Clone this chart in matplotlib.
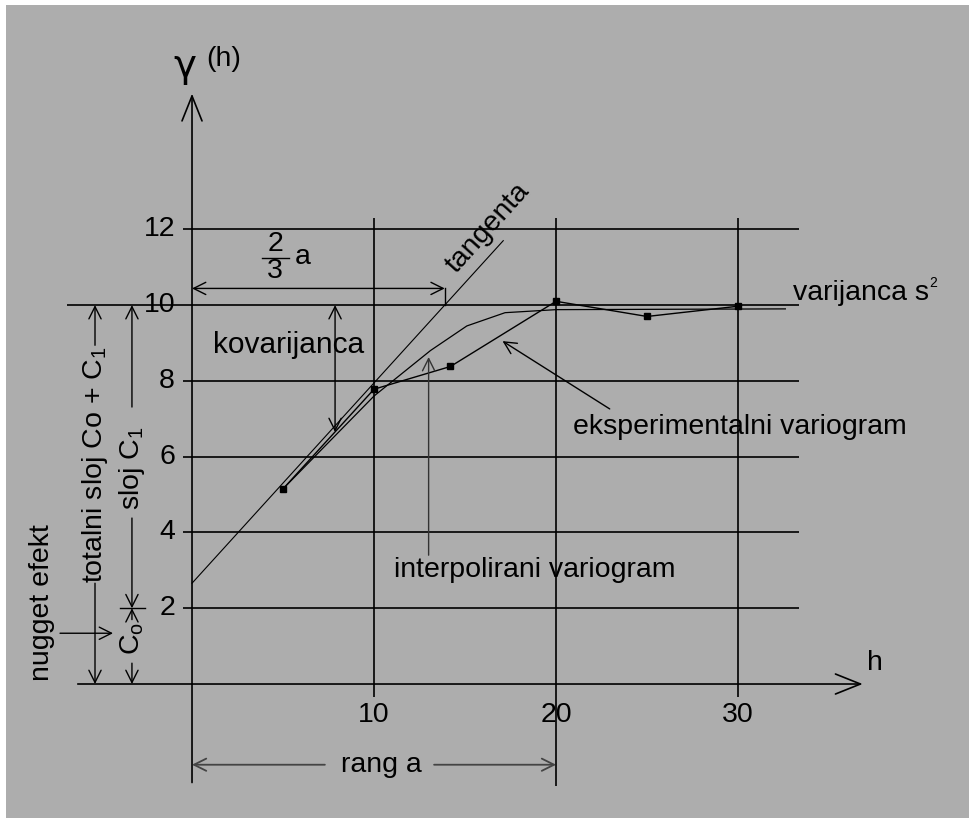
import matplotlib
matplotlib.use('Agg')
import matplotlib.pyplot as plt

plt.rcParams['font.family'] = ['Liberation Sans', 'DejaVu Sans']
plt.rcParams['mathtext.fontset'] = 'custom'
plt.rcParams['mathtext.rm'] = 'Liberation Sans'
plt.rcParams['mathtext.it'] = 'Liberation Sans:italic'

# values
lag_exp = [5, 10, 14.2, 20, 25, 30]
gamma_exp = [5.15, 7.78, 8.38, 10.1, 9.7, 9.97]
lag_model = [5, 10, 13.1, 15.1, 17.2, 20, 32.6]
gamma_model = [5.15, 7.6, 8.8, 9.45, 9.8, 9.88, 9.9]
lag_tangent = [0, 17.1]
gamma_tangent = [2.66, 11.7]
y_ticks = [2, 4, 6, 8, 10, 12]
x_ticks = [10, 20, 30]
sill = 10
nugget = 2
range_a = 20

FS = 20.5
BG = '#adadad'

# where the tangent hits the sill (2/3 a)
t_cross = lag_tangent[0] + (sill - gamma_tangent[0]) * \
    (lag_tangent[1] - lag_tangent[0]) / (gamma_tangent[1] - gamma_tangent[0])

fig = plt.figure(figsize=(9.69, 8.18), dpi=100)
fig.patch.set_facecolor('white')
ax = fig.add_axes([6 / 969, 0, 963 / 969, 813 / 818])
ax.set_facecolor(BG)
ax.set_xlim(-10.22, 42.69)
ax.set_ylim(-3.536, 17.92)
ax.set_xticks([])
ax.set_yticks([])
for s in ax.spines.values():
    s.set_visible(False)


def arrow(x0, y0, x1, y1, style='->', ms=20, lw=1, color='k'):
    ax.annotate('', xy=(x1, y1), xytext=(x0, y0),
                arrowprops=dict(arrowstyle=style, color=color, lw=lw,
                                shrinkA=0, shrinkB=0, mutation_scale=ms))


# grid
grid_y = [v for v in y_ticks if v != sill]
ax.hlines(grid_y, -0.5, 33.35, color='k', lw=1.2)
ax.hlines(sill, -6.87, 33.35, color='k', lw=1.2)
ax.vlines([x_ticks[0], x_ticks[2]], -0.34, 12.3, color='k', lw=1.2)
ax.vlines(range_a, -2.7, 12.3, color='k', lw=1.2)
ax.plot([-6.26, 0], [0, 0], color='k', lw=1.2)

# axes with arrows
arrow(0, -2.6, 0, 15.58, style='->,head_length=0.4,head_width=0.16', ms=45, lw=1.2)
arrow(0, 0, 36.85, 0, style='->,head_length=0.4,head_width=0.16', ms=45, lw=1.2)

for v in y_ticks:
    ax.text(-0.93, v, str(v), ha='right', va='center', fontsize=FS)
for v in x_ticks:
    ax.text(v, -0.82, str(v), ha='center', va='center', fontsize=FS)
ax.text(37.5, 0.55, 'h', ha='center', va='center', fontsize=FS)
ax.text(-0.38, 16.3, 'γ', ha='center', va='center', fontsize=28,
        family=['DejaVu Sans'])
ax.text(1.72, 16.5, '(h)', ha='center', va='center', fontsize=FS)

# curves
ax.plot(lag_tangent, gamma_tangent, color='k', lw=0.8)
ax.plot(lag_model, gamma_model, color='k', lw=0.9)
ax.plot(lag_exp, gamma_exp, color='k', lw=1, marker='s', ms=4.5)

# 2/3 a
arrow(0, 10.44, t_cross, 10.44, style='<->', ms=22)
ax.plot([t_cross, t_cross], [sill, 10.44], color='k', lw=1)
ax.text(4.56, 11.62, '2', ha='center', va='center', fontsize=FS)
ax.text(4.56, 10.9, '3', ha='center', va='center', fontsize=FS)
ax.plot([3.83, 5.35], [11.25, 11.25], color='k', lw=1)
ax.text(6.08, 11.27, 'a', ha='center', va='center', fontsize=FS)

# kovarijanca
arrow(7.86, sill, 7.86, 6.65, style='<->', ms=22)
ax.text(5.33, 8.94, 'kovarijanca', ha='center', va='center', fontsize=21.5)

ax.text(16.26, 12.03, 'tangenta', ha='center', va='center', fontsize=FS,
        rotation=48, rotation_mode='anchor')
ax.text(33.0, 10.13, 'varijanca s', ha='left', va='baseline', fontsize=FS)
ax.text(40.7, 10.58, '2', ha='center', va='center', fontsize=10)

ax.text(20.93, 6.78, 'eksperimentalni variogram', ha='left', va='center', fontsize=FS)
arrow(22.95, 7.26, 17.06, 9.05, ms=22)
ax.text(11.1, 3.0, 'interpolirani variogram', ha='left', va='center', fontsize=FS)
arrow(13.0, 3.4, 13.0, 8.63, ms=22, color='#333333')

# rang a
ax.text(10.38, -2.14, 'rang a', ha='center', va='center', fontsize=FS)
arrow(7.3, -2.13, 0, -2.13, ms=22, color='#444444', lw=1.3)
arrow(13.3, -2.13, range_a, -2.13, ms=22, color='#444444', lw=1.3)

# left side: nugget, sill parts
ax.text(-8.24, 2.16, 'nugget efekt', ha='center', va='center', fontsize=FS, rotation=90)
arrow(-7.25, 1.34, -4.34, 1.34, ms=22)

ax.text(-5.33, 5.8, 'totalni sloj Co + C$_1$', ha='center', va='center',
        fontsize=FS, rotation=90)
arrow(-5.33, 8.94, -5.33, sill, ms=22)
arrow(-5.33, 2.66, -5.33, 0, ms=22)

ax.text(-3.3, 5.7, 'sloj C$_1$', ha='center', va='center', fontsize=FS, rotation=90)
arrow(-3.3, 7.31, -3.3, sill, ms=22)
arrow(-3.3, 4.38, -3.3, nugget, ms=22)
ax.plot([-3.96, -2.58], [nugget, nugget], color='k', lw=1)

ax.text(-3.3, 1.2, 'C$_\\mathrm{o}$', ha='center', va='center', fontsize=FS, rotation=90)
arrow(-3.3, 1.7, -3.3, nugget, ms=22)
arrow(-3.3, 0.55, -3.3, 0, ms=22)

fig.savefig('out.png', dpi=100, facecolor=fig.get_facecolor())
